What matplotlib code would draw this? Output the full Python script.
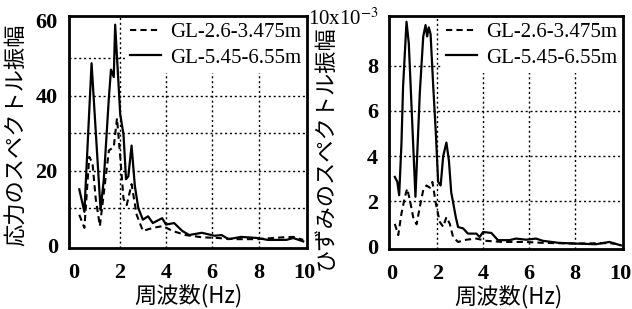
import matplotlib
matplotlib.use("Agg")
import matplotlib.pyplot as plt

plt.rcParams["mathtext.fontset"] = "stix"

# ---- data ----
freq_s1 = [0.25, 0.47, 0.78, 1.17, 1.31, 1.53, 1.62, 1.74, 1.80, 1.95, 2.02, 2.16, 2.27, 2.37, 2.51,
           2.65, 2.80, 3.00, 3.22, 3.43, 3.83, 4.00, 4.35, 4.70, 5.00, 5.55, 6.10, 6.40, 6.70, 7.25,
           7.95, 8.40, 9.20, 9.50, 9.93]
stress_deep = [15, 9, 48.7, 9.5, 17.7, 39.6, 47, 45, 59, 42.7, 35, 29.7, 17.7, 18.5, 26.7,
               16, 10, 6.9, 7.8, 6.0, 7.3, 5.6, 6.0, 3.9, 2.8, 3.4, 2.6, 2.8, 1.7, 2.3,
               2.0, 1.5, 1.5, 2.0, 1.1]
freq_d1 = [0.25, 0.47, 0.68, 0.82, 0.96, 1.14, 1.31, 1.53, 1.74, 1.88, 2.02, 2.16, 2.30, 2.51, 2.73,
           3.00, 3.43, 3.86, 4.28, 4.84, 5.55, 6.25, 6.96, 7.95, 9.08, 9.50, 9.93]
stress_shallow = [8.2, 4.7, 23.7, 22, 12.5, 5.2, 14, 25.4, 26.3, 34, 23.7, 12.5, 10.8, 16.4, 8.2,
                  3.9, 4.7, 5.2, 3.9, 2.8, 2.2, 2.0, 1.7, 1.7, 2.2, 2.3, 1.5]

freq_s2 = [0.14, 0.25, 0.33, 0.43, 0.50, 0.65, 0.75, 1.04, 1.23, 1.38, 1.48, 1.55, 1.62, 1.70, 1.81,
           1.93, 2.03, 2.14, 2.25, 2.39, 2.50, 2.60, 2.80, 2.90, 3.12, 3.33, 3.70, 3.84, 3.99, 4.35,
           4.64, 5.14, 5.43, 5.87, 6.30, 6.60, 7.30, 8.00, 8.90, 9.50, 10.0]
strain_deep = [3.08, 2.86, 2.27, 4.56, 7.07, 9.95, 8.99, 2.2, 6.8, 9.3, 9.8, 9.3, 9.7, 9.4, 7.2,
               5.0, 2.86, 2.7, 4.0, 4.6, 3.8, 2.4, 1.3, 0.86, 0.8, 0.57, 0.57, 0.42, 0.64, 0.6,
               0.28, 0.28, 0.35, 0.3, 0.35, 0.25, 0.16, 0.13, 0.1, 0.2, 0.05]
freq_d2 = [0.14, 0.29, 0.43, 0.58, 0.68, 0.80, 0.94, 1.09, 1.23, 1.38, 1.52, 1.67, 1.78, 1.93, 2.10,
           2.25, 2.39, 2.54, 2.68, 2.90, 3.26, 3.70, 4.13, 4.86, 5.87, 6.60, 8.00, 9.50, 10.0]
strain_shallow = [1.0, 0.5, 1.46, 2.2, 2.56, 2.04, 1.3, 0.98, 1.75, 2.5, 2.7, 2.6, 2.86, 1.9, 1.09,
                  0.87, 1.3, 1.0, 0.42, 0.2, 0.3, 0.35, 0.25, 0.2, 0.2, 0.16, 0.13, 0.15, 0.08]

label_shallow = "GL-2.6-3.475m"
label_deep = "GL-5.45-6.55m"
xticks = [0, 2, 4, 6, 8, 10]
yticks1 = [0, 20, 40, 60]
ygrid1 = [10, 20, 30, 40, 50]
yticks2 = [0, 2, 4, 6, 8]

serif = ["Liberation Serif", "DejaVu Serif"]
jp = ["Noto Sans CJK JP", "DejaVu Sans"]

fig = plt.figure(figsize=(6.32, 3.09), dpi=100)
ax1 = fig.add_axes([0.109, 0.197, 0.377, 0.751])
ax2 = fig.add_axes([0.616, 0.195, 0.370, 0.753])

def style(ax, xlim, ylim, yticks, ygrid, ylabel, ylab_xy, xlab_xy):
    ax.set_xlim(*xlim)
    ax.set_ylim(*ylim)
    ax.set_xticks(xticks)
    ax.set_yticks(yticks)
    for t in ax.get_xticklabels() + ax.get_yticklabels():
        t.set_fontfamily(serif)
        t.set_fontweight("bold")
        t.set_fontsize(16)
    ax.tick_params(axis="x", length=0, pad=11)
    ax.tick_params(axis="y", length=0, pad=8)
    for g in ygrid:
        ax.axhline(g, color="black", lw=1.0, ls=(0, (1.5, 2)), zorder=1)
    for g in xticks[1:-1]:
        ax.axvline(g, color="black", lw=1.0, ls=(0, (1.5, 2)), zorder=(2.5 if g == 2 else 1))
    for s in ax.spines.values():
        s.set_linewidth(2.0)
    ax.set_xlabel("周波数(Hz)", fontfamily=jp, fontsize=16)
    ax.xaxis.set_label_coords(*xlab_xy)
    ax.set_ylabel(ylabel, fontfamily=jp, fontsize=16)
    ax.yaxis.set_label_coords(*ylab_xy)

ax1.plot(freq_d1, stress_shallow, color="black", lw=1.5, ls=(0, (3, 2)), label=label_shallow, zorder=3)
ax1.plot(freq_s1, stress_deep, color="black", lw=1.6, label=label_deep, zorder=3)
style(ax1, (-0.2, 10.1), (-0.7, 61.3), yticks1, ygrid1, "応力のスペクトル振幅",
      (-0.172, 0.49), (0.50, -0.155))

ax2.plot(freq_d2, strain_shallow, color="black", lw=1.5, ls=(0, (3, 2)), label=label_shallow, zorder=3)
ax2.plot(freq_s2, strain_deep, color="black", lw=1.6, label=label_deep, zorder=3)
style(ax2, (-0.1, 10.1), (-0.1, 10.2), yticks2, yticks2[1:], "ひずみのスペクトル振幅",
      (-0.225, 0.435), (0.51, -0.155))
ax2.text(-0.045, 0.985, "10x10$^{-3}$", transform=ax2.transAxes, ha="right", va="center",
         fontfamily=serif, fontsize=15)

for ax in (ax1, ax2):
    leg = ax.legend(loc="upper right", prop={"family": serif, "size": 15},
                    handlelength=1.5, handletextpad=0.4, borderpad=0.25, labelspacing=0.3,
                    borderaxespad=0.05, frameon=True, fancybox=False)
    leg.get_frame().set_facecolor("white")
    leg.get_frame().set_edgecolor("none")
    leg.get_frame().set_alpha(1.0)
    leg.set_zorder(2)

fig.savefig("out.png", dpi=100)
